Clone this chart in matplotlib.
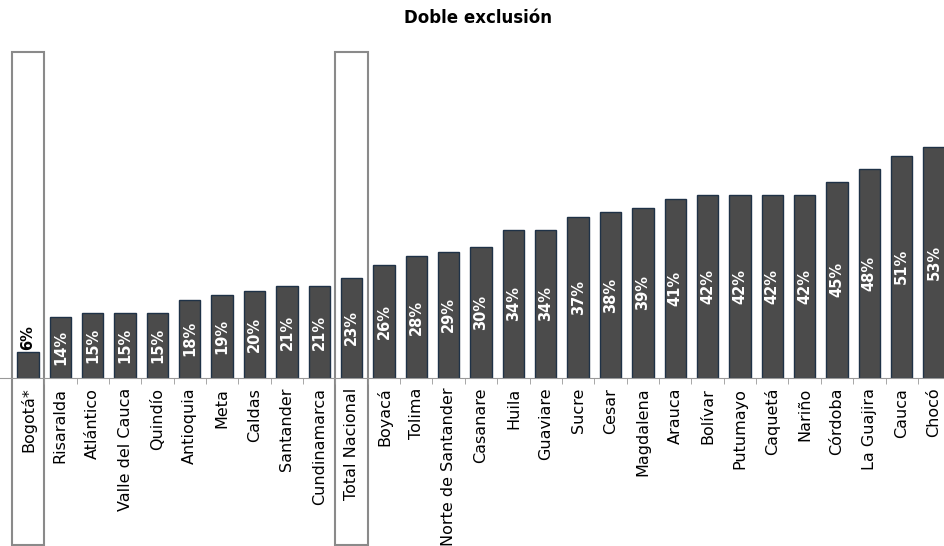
import matplotlib.pyplot as plt
from matplotlib.patches import Rectangle
from matplotlib.transforms import blended_transform_factory

# datos
departamentos = ['Bogotá*', 'Risaralda', 'Atlántico', 'Valle del Cauca', 'Quindío',
                 'Antioquia', 'Meta', 'Caldas', 'Santander', 'Cundinamarca',
                 'Total Nacional', 'Boyacá', 'Tolima', 'Norte de Santander', 'Casanare',
                 'Huila', 'Guaviare', 'Sucre', 'Cesar', 'Magdalena', 'Arauca', 'Bolívar',
                 'Putumayo', 'Caquetá', 'Nariño', 'Córdoba', 'La Guajira', 'Cauca', 'Chocó']
porcentajes = [6, 14, 15, 15, 15, 18, 19, 20, 21, 21, 23, 26, 28, 29, 30, 34, 34,
               37, 38, 39, 41, 42, 42, 42, 42, 45, 48, 51, 53]
resaltados = ['Bogotá*', 'Total Nacional']

plt.rcParams['font.family'] = ['DejaVu Sans']

W, H = 945, 546
fig = plt.figure(figsize=(W / 100, H / 100), dpi=100)

# ejes: línea base en y=378 px, tope en y=52 px
base_px, top_px = 378, 52
ax = fig.add_axes([0, (H - base_px) / H, 1, (base_px - top_px) / H])

x = list(range(len(departamentos)))
ax.bar(x, porcentajes, width=0.66, color='#4b4b4b', edgecolor='#1f3247', linewidth=1)

px_por_cat = 32.36
ax.set_xlim(-28 / px_por_cat, -28 / px_por_cat + W / px_por_cat)
ax.set_ylim(0, (base_px - top_px) / 4.36)

for i, v in enumerate(porcentajes):
    if v < 10:
        ax.text(i, v + 0.5, f'{v}%', rotation=90, ha='center', va='bottom',
                color='black', fontsize=10.5, fontweight='bold')
    else:
        ax.text(i, v / 2, f'{v}%', rotation=90, ha='center', va='center',
                color='white', fontsize=10.5, fontweight='bold')

for s in ['top', 'right', 'left']:
    ax.spines[s].set_visible(False)
ax.spines['bottom'].set_color('#999999')
ax.set_yticks([])
ax.set_xticks(x)
ax.set_xticklabels(departamentos, rotation=90, fontsize=11.5, va='top')
ax.tick_params(axis='x', which='major', length=0, pad=7)
ax.set_xticks([i + 0.5 for i in x[:-1]], minor=True)
ax.tick_params(axis='x', which='minor', length=4, color='#999999')

# recuadros de Bogotá y Total Nacional
trans = blended_transform_factory(ax.transData, fig.transFigure)
for nombre in resaltados:
    i = departamentos.index(nombre)
    ax.add_patch(Rectangle((i - 0.5, 1 / H), 1.0, (545 - 52) / H, transform=trans,
                           fill=False, edgecolor='#8a8a8a', linewidth=1.5, clip_on=False))

fig.text(478 / W, 1 - 18 / H, 'Doble exclusión', ha='center', va='center',
         fontsize=12, fontweight='bold')

fig.savefig('out.png', dpi=100)
